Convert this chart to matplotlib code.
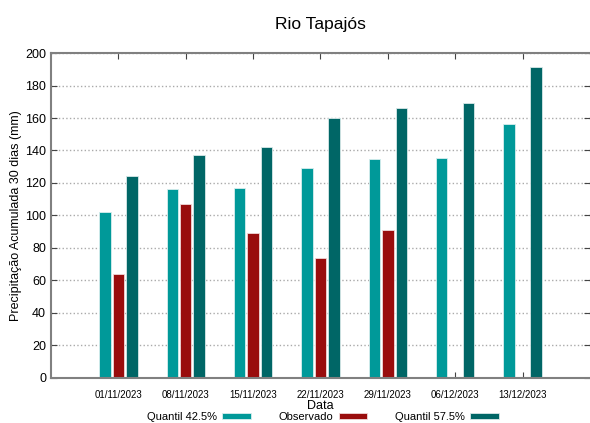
import matplotlib
matplotlib.use('Agg')
import matplotlib.pyplot as plt
import numpy as np

plt.rcParams['font.family'] = ['Liberation Sans Narrow', 'Liberation Sans', 'DejaVu Sans']

datas = ['01/11/2023', '08/11/2023', '15/11/2023', '22/11/2023',
         '29/11/2023', '06/12/2023', '13/12/2023']
q425 = [102, 116, 117, 129.5, 135, 135.5, 156]
observado = [64, 107, 89, 74, 91, np.nan, np.nan]
q575 = [124, 137.5, 142, 160, 166, 169.5, 191.5]

x = np.arange(1, len(datas) + 1)
width = 0.17
off = 0.2

fig = plt.figure(figsize=(5.9, 4.23), dpi=100)
ax = fig.add_axes([0.0864, 0.1064, 0.9136, 0.7683])

b1 = ax.bar(x - off, q425, width=width, color='#009999', edgecolor='#d8eeee', linewidth=0.6, label='Quantil 42.5%')
b2 = ax.bar(x, observado, width=width, color='#990d0d', edgecolor='#f0d8d8', linewidth=0.6, label='Observado')
b3 = ax.bar(x + off, q575, width=width, color='#006666', edgecolor='#d8e8e8', linewidth=0.6, label='Quantil 57.5%')

ax.set_xlim(0, 8)
ax.set_ylim(0, 200)
ax.set_yticks(np.arange(0, 201, 20))
ax.set_xticks(x)
ax.set_xticklabels(datas, fontsize=7)
ax.tick_params(axis='y', labelsize=9, direction='in', length=4, left=True, right=True, color='#444444')
ax.tick_params(axis='x', direction='in', length=4, top=True, bottom=True, color='#444444', pad=9)
ax.set_axisbelow(True)
ax.grid(axis='y', linestyle=':', color='#aaaaaa', linewidth=1)

for s in ['left', 'top', 'bottom']:
    ax.spines[s].set_color('#808080')
    ax.spines[s].set_linewidth(1.5)
ax.spines['right'].set_visible(False)

ax.set_title('Rio Tapajós', fontsize=12.5, pad=17)
ax.set_ylabel('Precipitação Acumulada 30 dias (mm)', fontsize=9, labelpad=2)
ax.set_xlabel('Data', fontsize=9, labelpad=0)

fig.legend(handles=[b1, b2, b3], ncol=3, markerfirst=False, frameon=False,
           loc='center', bbox_to_anchor=(0.5475, 0.0145), fontsize=8,
           handlelength=2.6, handleheight=0.45, handletextpad=0.45, columnspacing=2.5)

plt.savefig('out.png', dpi=100)
